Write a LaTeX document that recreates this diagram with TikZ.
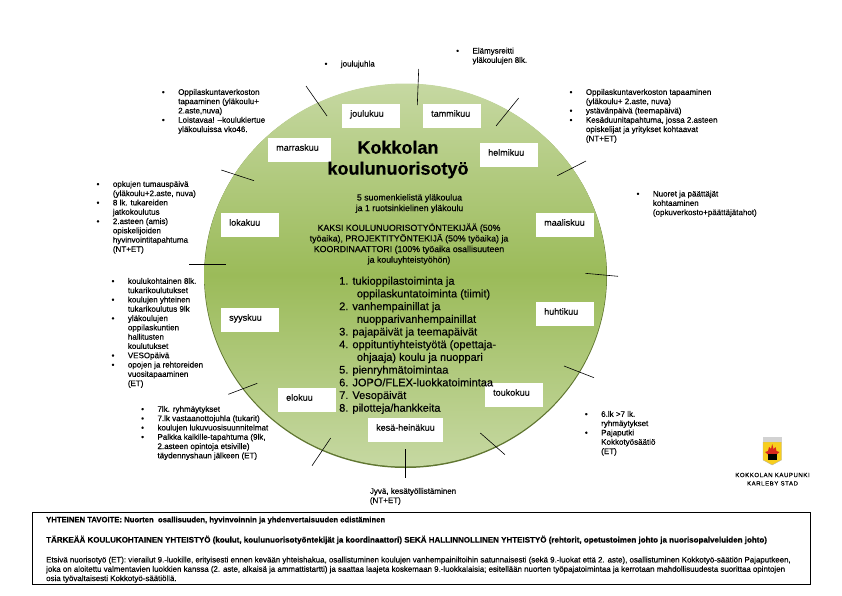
\documentclass[tikz,border=0pt]{standalone}
\usepackage{fontspec}
\setmainfont{Liberation Sans}[RawFeature={embolden=0.35}]
\definecolor{discpale}{HTML}{C6D8A2}
\definecolor{discmid}{HTML}{9BBB59}
\definecolor{discedge}{HTML}{5F7530}
\definecolor{crestgold}{HTML}{F7CE1E}
\definecolor{crestred}{HTML}{D9261C}
\newcommand{\bul}{\leavevmode\llap{\textbullet\hspace{13.5pt}}}
\tikzset{
  monthbox/.style={fill=white, anchor=north west, inner xsep=8pt, inner ysep=0pt,
    text width=#1-16pt, text height=12.5pt, text depth=11.5pt, font=\fontsize{9}{10}\selectfont},
  note/.style={anchor=north west, inner sep=0pt, align=left, font=\fontsize{8}{9.3}\selectfont},
  tick/.style={black, line width=0.6pt}
}
\begin{document}
\begin{tikzpicture}[x=1pt,y=-1pt]

   \useasboundingbox (0,0) rectangle (842,595);

   % disc
   \fill [discedge] (405.5,276) ellipse [x radius=201.5, y radius=192];
   \shade [top color=discpale, bottom color=discpale, middle color=discmid] (405.5,275) ellipse [x radius=201, y radius=191.5];

   % ticks round the disc
   \coordinate (jouluA) at (418.7,69);    \coordinate (jouluB) at (417.3,105);
   \coordinate (marrasA) at (306,86);     \coordinate (marrasB) at (327,116);
   \coordinate (lokaA) at (221.3,170);    \coordinate (lokaB) at (254,180.7);
   \coordinate (syysA) at (189,264.3);    \coordinate (syysB) at (225.7,264.3);
   \coordinate (eloA) at (228.3,394.3);   \coordinate (eloB) at (257.3,383.3);
   \coordinate (kesaA) at (312,465.7);    \coordinate (kesaB) at (330.7,438);
   \coordinate (jyvaA) at (405.7,449);    \coordinate (jyvaB) at (405.7,478);
   \coordinate (toukoA) at (480.3,433);   \coordinate (toukoB) at (505,454.7);
   \coordinate (huhtiA) at (564,366);     \coordinate (huhtiB) at (594,377.7);
   \coordinate (maalisA) at (585.3,273.3); \coordinate (maalisB) at (618,276.3);
   \coordinate (helmiA) at (557.3,175.7); \coordinate (helmiB) at (586,161);
   \coordinate (tammiA) at (496,126);     \coordinate (tammiB) at (518.7,98);

   \draw [tick] (jouluA) -- (jouluB);
   \draw [tick] (marrasA) -- (marrasB);
   \draw [tick] (lokaA) -- (lokaB);
   \draw [tick] (syysA) -- (syysB);
   \draw [tick] (eloA) -- (eloB);
   \draw [tick] (kesaA) -- (kesaB);
   \draw [tick] (jyvaA) -- (jyvaB);
   \draw [tick] (toukoA) -- (toukoB);
   \draw [tick] (huhtiA) -- (huhtiB);
   \draw [tick] (maalisA) -- (maalisB);
   \draw [tick] (helmiA) -- (helmiB);
   \draw [tick] (tammiA) -- (tammiB);

   % months
   \node [monthbox=58pt] (joulukuu) at (342,104) {joulukuu};
   \node [monthbox=58pt] (tammikuu) at (423,104) {tammikuu};
   \node [monthbox=63pt] (marraskuu) at (268,138) {marraskuu};
   \node [monthbox=58pt] (helmikuu) at (480,143) {helmikuu};
   \node [monthbox=58pt] (lokakuu) at (221,213) {lokakuu};
   \node [monthbox=58pt] (maaliskuu) at (536,213) {maaliskuu};
   \node [monthbox=58pt] (syyskuu) at (221,308) {syyskuu};
   \node [monthbox=58pt] (huhtikuu) at (536,302) {huhtikuu};
   \node [monthbox=58pt] (elokuu) at (278,388) {elokuu};
   \node [monthbox=58pt] (toukokuu) at (485,383) {toukokuu};
   \node [monthbox=75pt] (kesakuu) at (368,418) {kesä-heinäkuu};

   % middle of the disc
   \node [align=center, inner sep=0pt, font=\fontsize{18}{21}\selectfont\bfseries] (title) at (398,159.5) {Kokkolan\\koulunuorisotyö};
   \node [align=center, inner sep=0pt, font=\fontsize{8.8}{10.6}\selectfont] (schools) at (409.5,203.5) {5 suomenkielistä yläkoulua\\ja 1 ruotsinkielinen yläkoulu};
   \node [align=center, inner sep=0pt, font=\fontsize{8.8}{10.6}\selectfont] (staff) at (409,244) {KAKSI KOULUNUORISOTYÖNTEKIJÄÄ (50\%\\työaika), PROJEKTITYÖNTEKIJÄ (50\% työaika) ja\\KOORDINAATTORI (100\% työaika osallisuuteen\\ja kouluyhteistyöhön)};
   \node [anchor=north west, align=left, inner sep=0pt, font=\fontsize{11}{12.7}\selectfont] (tasks) at (339,276.5) {1. tukioppilastoiminta ja\\
     \hspace*{17.7pt}oppilaskuntatoiminta (tiimit)\\
     2. vanhempainillat ja\\
     \hspace*{17.7pt}nuopparivanhempainillat\\
     3. pajapäivät ja teemapäivät\\
     4. oppituntiyhteistyötä (opettaja-\\
     \hspace*{17.7pt}ohjaaja) koulu ja nuoppari\\
     5. pienryhmätoimintaa\\
     6. JOPO/FLEX-luokkatoimintaa\\
     7. Vesopäivät\\
     8. pilotteja/hankkeita};

   % notes round the disc
   \node [note] (notejoulu) at (340.7,60.5) {\bul joulujuhla};
   \node [note] (notetammi) at (472.3,47.5) {\bul Elämysreitti\\yläkoulujen 8lk.};
   \node [note] (notemarras) at (178,88.8) {\bul Oppilaskuntaverkoston\\tapaaminen (yläkoulu+\\2.aste,nuva)\\\bul Loistavaa! --koulukiertue\\yläkouluissa vko46.};
   \node [note] (notehelmi) at (585.7,88.8) {\bul Oppilaskuntaverkoston tapaaminen\\(yläkoulu+ 2.aste, nuva)\\\bul ystävänpäivä (teemapäivä)\\\bul Kesäduunitapahtuma, jossa 2.asteen\\opiskelijat ja yritykset kohtaavat\\(NT+ET)};
   \node [note] (notemaalis) at (652.7,190.5) {\bul Nuoret ja päättäjät\\kohtaaminen\\(opkuverkosto+päättäjätahot)};
   \node [note] (noteloka) at (112.7,180.8) {\bul opkujen tumauspäivä\\(yläkoulu+2.aste, nuva)\\\bul 8 lk. tukareiden\\jatkokoulutus\\\bul 2.asteen (amis)\\opiskelijoiden\\hyvinvointitapahtuma\\(NT+ET)};
   \node [note] (notesyys) at (127.7,277.8) {\bul koulukohtainen 8lk.\\tukarikoulutukset\\\bul koulujen yhteinen\\tukarikoulutus 9lk\\\bul yläkoulujen\\oppilaskuntien\\hallitusten\\koulutukset\\\bul VESOpäivä\\\bul opojen ja rehtoreiden\\vuositapaaminen\\(ET)};
   \node [note] (noteelo) at (157.3,405.8) {\bul 7lk. ryhmäytykset\\\bul 7.lk vastaanottojuhla (tukarit)\\\bul koulujen lukuvuosisuunnitelmat\\\bul Palkka kaikille-tapahtuma (9lk,\\2.asteen opintoja etsiville)\\täydennyshaun jälkeen (ET)};
   \node [note] (notekesa) at (369.7,487.8) {Jyvä, kesätyöllistäminen\\(NT+ET)};
   \node [note] (notetouko) at (601,410.8) {\bul 6.lk >7 lk.\\ryhmäytykset\\\bul Pajaputki\\Kokkotyösäätiö\\(ET)};

   % crest
   \fill [crestgold, draw=gray!60, line width=0.3pt] (763,442) -- (781.5,442) -- (781.5,460) -- (772.2,465) -- (763,460) -- cycle;
   \fill [gray!35] (763,437) rectangle (781.5,442);
   \fill [crestred] (765,452) -- (768,451) -- (769,447) -- (771,449) -- (772.2,444) -- (773.5,449) -- (775.5,447) -- (776.5,451) -- (779.5,452) -- (776,455) -- (768.5,455) -- cycle;
   \fill [black] (768,454) rectangle (776.5,459.5);
   \node [align=center, inner sep=0pt, font=\fontsize{6}{8.4}\selectfont] (cityname) at (772.5,479.2) {\addfontfeature{LetterSpace=10}KOKKOLAN KAUPUNKI\\\addfontfeature{LetterSpace=10}KARLEBY STAD};

   % frame below
   \draw [black, line width=0.9pt] (32,512.3) rectangle (810,584);
   \node [note, font=\fontsize{7.7}{9.3}\selectfont\bfseries] (goal) at (46,516.5) {YHTEINEN TAVOITE: Nuorten\ \ osallisuuden, hyvinvoinnin ja yhdenvertaisuuden edistäminen};
   \node [note, font=\fontsize{8}{9.3}\selectfont\bfseries] (cooperation) at (46,535.5) {TÄRKEÄÄ KOULUKOHTAINEN YHTEISTYÖ (koulut, koulunuorisotyöntekijät ja koordinaattori) SEKÄ HALLINNOLLINEN YHTEISTYÖ (rehtorit, opetustoimen johto ja nuorisopalveluiden johto)};
   \node [note, font=\fontsize{7.9}{9.3}\selectfont] (outreach) at (46,556.5) {Etsivä nuorisotyö (ET): vierailut 9.-luokille, erityisesti ennen kevään yhteishakua, osallistuminen koulujen vanhempainiltoihin satunnaisesti (sekä 9.-luokat että 2. aste), osallistuminen Kokkotyö-säätiön Pajaputkeen,\\joka on aloitettu valmentavien luokkien kanssa (2. aste, alkaisä ja ammattistartti) ja saattaa laajeta koskemaan 9.-luokkalaisia; esitellään nuorten työpajatoimintaa ja kerrotaan mahdollisuudesta suorittaa opintojen\\osia työvaltaisesti Kokkotyö-säätiöllä.};

\end{tikzpicture}
\end{document}
